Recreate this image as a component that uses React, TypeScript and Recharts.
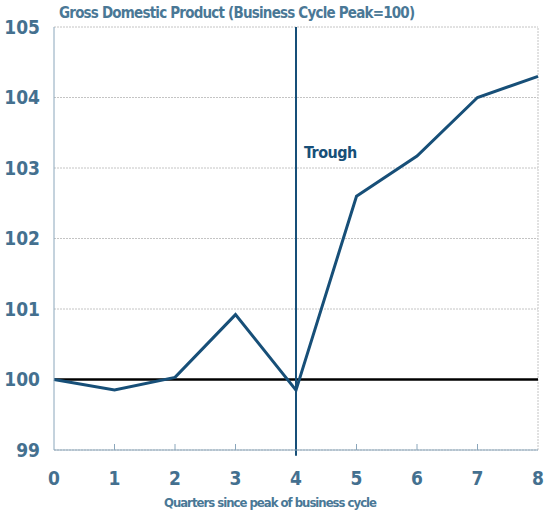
import { LineChart, Line, XAxis, YAxis, CartesianGrid, ReferenceLine } from 'recharts';

const quarters = [0, 1, 2, 3, 4, 5, 6, 7, 8];
const gdpIndex = [100, 99.85, 100.03, 100.92, 99.85, 102.6, 103.17, 104.0, 104.3];
const yTicks = [99, 100, 101, 102, 103, 104, 105];

const data = quarters.map((q, i) => ({ q, gdp: gdpIndex[i] }));

const FONT = '"DejaVu Sans Condensed", "DejaVu Sans", sans-serif';
const TICK_COLOR = '#44708f';
const LINE_COLOR = '#174f78';

const XTick = (props: any) => {
  const { x, y, payload } = props;
  const inner = payload.value > 0 && payload.value < 8 && payload.value !== 4;
  return (
    <g>
      {inner && <line x1={x} x2={x} y1={y} y2={y - 6} stroke="#8aa6bb" strokeWidth={1} />}
      <text
        x={x} y={y + 35} textAnchor="middle"
        fontFamily={FONT} fontWeight="bold" fontSize={19} fill={TICK_COLOR}
      >
        {payload.value}
      </text>
    </g>
  );
};

const TroughLabel = (props: any) => {
  const { viewBox } = props;
  return (
    <text
      x={viewBox.x + 8} y={viewBox.y + 131}
      fontFamily={FONT} fontWeight="bold" fontSize={16} fill={LINE_COLOR}
      letterSpacing={-0.5}
    >
      Trough
    </text>
  );
};

export default function App() {
  return (
    <div style={{ position: 'absolute', left: 0, top: 0, width: 545, height: 516, background: '#fff' }}>
      <div
        style={{
          position: 'absolute', left: 59, top: 4, fontFamily: FONT, fontWeight: 'bold',
          fontSize: 15, letterSpacing: -0.8, color: '#4a7896', whiteSpace: 'nowrap',
        }}
      >
        Gross Domestic Product (Business Cycle Peak=100)
      </div>
      <div
        style={{
          position: 'absolute', left: 0, width: 540, top: 495, textAlign: 'center', fontFamily: FONT,
          fontWeight: 'bold', fontSize: 13, letterSpacing: -1, color: '#4a7896', whiteSpace: 'nowrap',
        }}
      >
        Quarters since peak of business cycle
      </div>
      <LineChart
        width={545}
        height={516}
        data={data}
        margin={{ top: 27, right: 7, left: 0, bottom: 0 }}
      >
        <CartesianGrid vertical={false} stroke="#c4c4c4" strokeDasharray="2 1" />
        <XAxis
          dataKey="q"
          type="number"
          domain={[0, 8]}
          ticks={quarters}
          height={66}
          tickSize={0}
          tickMargin={0}
          tick={<XTick />}
          stroke="#8aa6bb"
          interval={0}
        />
        <YAxis
          domain={[99, 105]}
          ticks={yTicks}
          width={54}
          tickSize={0}
          tickMargin={14}
          stroke="#8aa6bb"
          tick={{ fontFamily: FONT, fontWeight: 'bold', fontSize: 19, fill: TICK_COLOR }}
          interval={0}
        />
        <ReferenceLine x={8} stroke="#c4c4c4" strokeDasharray="2 1" />
        <ReferenceLine y={100} stroke="#000" strokeWidth={2.5} />
        <ReferenceLine
          segment={[{ x: 4, y: 105 }, { x: 4, y: 98.92 }]}
          ifOverflow="visible"
          stroke={LINE_COLOR}
          strokeWidth={2}
          label={<TroughLabel />}
        />
        <Line
          type="linear"
          dataKey="gdp"
          stroke={LINE_COLOR}
          strokeWidth={3}
          dot={false}
          isAnimationActive={false}
        />
      </LineChart>
    </div>
  );
}
